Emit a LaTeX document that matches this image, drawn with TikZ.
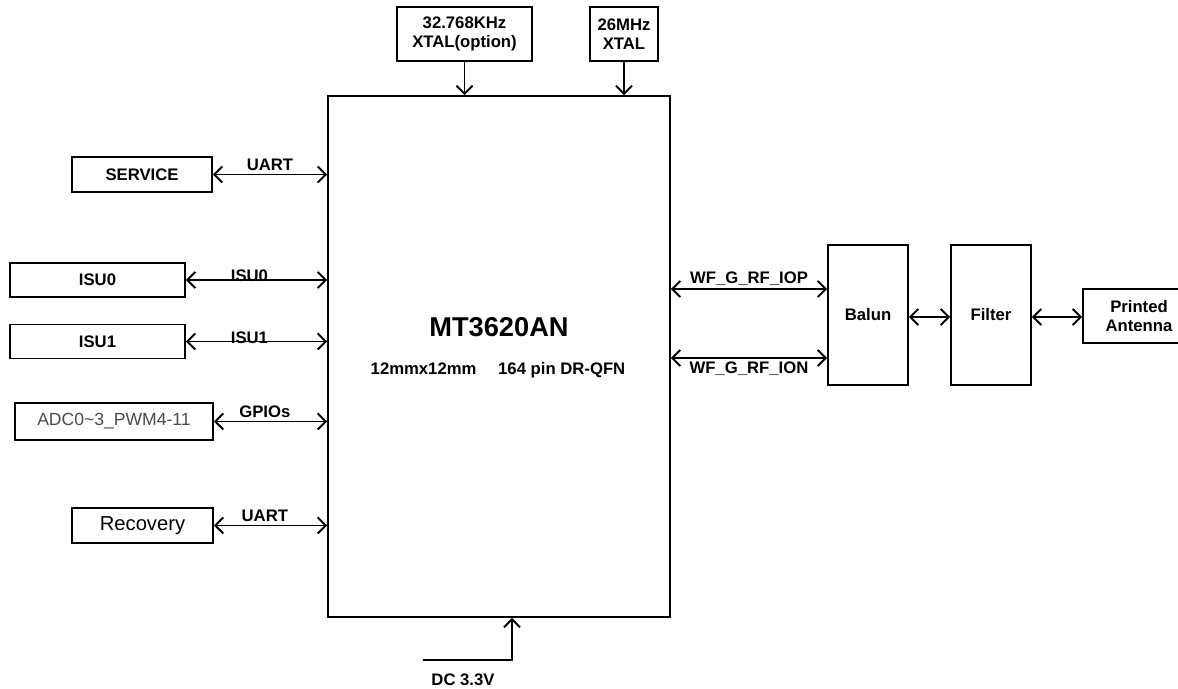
\documentclass[tikz,border=0pt]{standalone}
\usepackage{fontspec}
\setmainfont{Liberation Sans}
\usetikzlibrary{positioning,arrows.meta,calc}
\definecolor{adcgray}{RGB}{75,75,75}

\begin{document}
\begin{tikzpicture}[
 b/.style={draw,line width=1.1pt,align=center,inner sep=2pt,font=\fontsize{9.5}{10.5}\selectfont\bfseries},
 a/.style={{Straight Barb[length=1.6mm,width=3.2mm]}-{Straight Barb[length=1.6mm,width=3.2mm]},line width=1.1pt},
 s/.style={-{Straight Barb[length=1.6mm,width=3.2mm]},line width=1.1pt},
 l/.style={font=\fontsize{9.5}{10.5}\selectfont\bfseries,inner sep=1.5pt}]
\useasboundingbox (0,0) rectangle (23.56,13.76);
\node[b,minimum width=6.84cm,minimum height=10.42cm] (chip) at (9.98,6.63) {};
\node[font=\fontsize{15.5}{17}\selectfont\bfseries] (part) at (9.98,7.22) {MT3620AN};
\node[l] (pkg) at (9.96,6.36) {12mmx12mm\hspace{1.3em}164 pin DR-QFN};
\node[b,minimum width=2.70cm,minimum height=1.08cm] (xt32) at (9.29,13.08) {32.768KHz\\XTAL(option)};
\node[b,minimum width=1.36cm,minimum height=1.08cm] (xt26) at (12.48,13.08) {26MHz\\XTAL};
\node[b,minimum width=2.80cm,minimum height=.70cm] (srv) at (2.84,10.27) {SERVICE};
\node[b,minimum width=3.50cm,minimum height=.68cm] (isu0) at (1.95,8.16) {ISU0};
\node[b,minimum width=3.50cm,minimum height=.68cm] (isu1) at (1.95,6.93) {ISU1};
\node[b,minimum width=3.96cm,minimum height=.74cm,font=\fontsize{10}{11}\selectfont,text=adcgray] (adc) at (2.28,5.33) {ADC0\textasciitilde 3\_PWM4-11};
\node[b,minimum width=2.82cm,minimum height=.70cm,font=\fontsize{11.5}{12}\selectfont] (rec) at (2.85,3.25) {Recovery};
\node[b,minimum width=1.60cm,minimum height=2.80cm] (balun) at (17.36,7.46) {Balun};
\node[b,minimum width=1.60cm,minimum height=2.80cm] (filt) at (19.82,7.46) {Filter};
\node[b,minimum width=2.24cm,minimum height=1.08cm] (ant) at (22.78,7.44) {Printed\\Antenna};
\coordinate (dc) at (8.46,.56);
\node[l] (dclbl) at (9.26,.16) {DC 3.3V};
\draw[s](xt32.south)--(xt32.south|-chip.north);\draw[s](xt26.south)--(xt26.south|-chip.north);
\draw[a](srv.east)--(srv.east-|chip.west) node[l,midway,above]{UART};
\draw[a](isu0.east)--(isu0.east-|chip.west) node[l,pos=.45,above,yshift=-3pt]{ISU0};
\draw[a](isu1.east)--(isu1.east-|chip.west) node[l,pos=.45,above,yshift=-3pt]{ISU1};
\draw[a](adc.east)--(adc.east-|chip.west) node[l,pos=.45,above]{GPIOs};
\draw[a](rec.east)--(rec.east-|chip.west) node[l,pos=.45,above]{UART};
\draw[a](chip.east|-0,7.98)--(balun.west|-0,7.98) node[l,midway,above]{WF\_G\_RF\_IOP};
\draw[a](chip.east|-0,6.60)--(balun.west|-0,6.60) node[l,midway,below]{WF\_G\_RF\_ION};
\draw[a](balun.east|-0,7.42)--(filt.west|-0,7.42);\draw[a](filt.east|-0,7.42)--(ant.west|-0,7.42);
\draw[s](dc)-|([xshift=2.6mm]chip.south);
\end{tikzpicture}
\end{document}
